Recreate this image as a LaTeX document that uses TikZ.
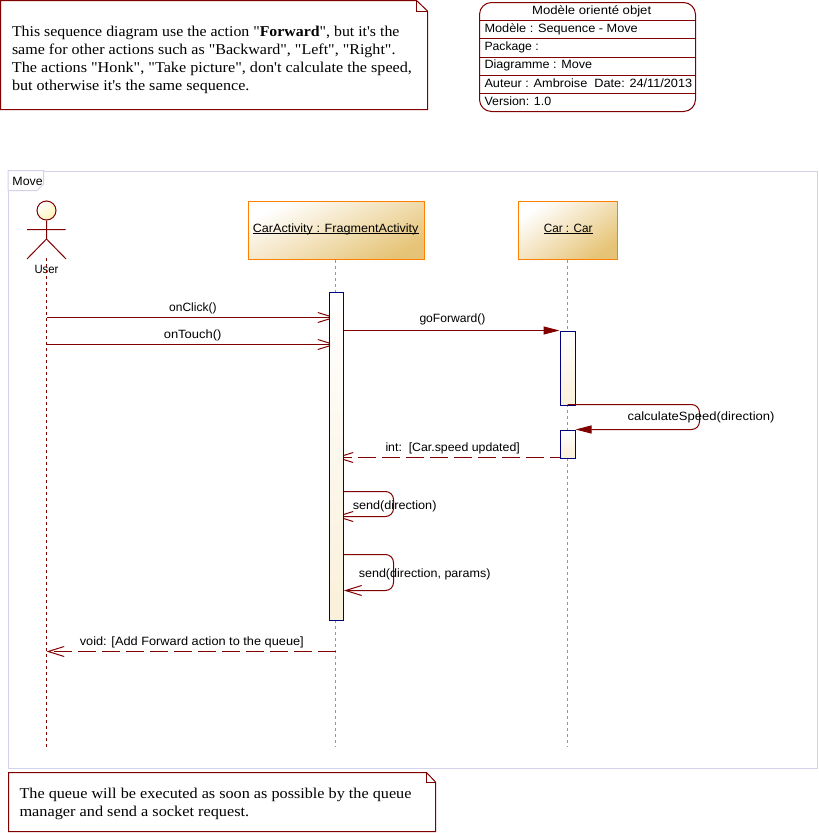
\documentclass[tikz,border=0pt]{standalone}
\usepackage{fontspec}
\usetikzlibrary{arrows.meta}
\newfontfamily\arialf{Liberation Sans}
\newfontfamily\timesf{Liberation Serif}
\definecolor{dred}{HTML}{800000}
\definecolor{navybox}{HTML}{000080}
\definecolor{orangeb}{HTML}{FF8000}
\definecolor{framec}{HTML}{D2D2EA}
\definecolor{goldf}{HTML}{E6C477}
\definecolor{actf}{HTML}{FAF0DA}
\definecolor{headf}{HTML}{FFF4B8}
\newcommand\fitw[2]{\resizebox{#1pt}{\height}{#2}}
\newsavebox\ulsavebox
\newcommand\flatul[1]{\sbox\ulsavebox{#1}\rlap{\rule[-1.8pt]{\wd\ulsavebox}{0.9pt}}\usebox\ulsavebox}
\tikzset{
  x=1pt,y=-1pt,
  every path/.style={line width=1pt},
  sanstxt/.style={anchor=base west,inner sep=0pt,font=\arialf\fontsize{12}{14}\selectfont},
  seriftxt/.style={anchor=base west,inner sep=0pt,font=\timesf\fontsize{15}{17}\selectfont},
  notebox/.style={draw=dred,fill=white},
  objbox/.style={draw=orangeb,line width=1.4pt,top color=white,bottom color=goldf,minimum height=58pt,inner sep=0pt},
  actbox/.style={draw=navybox,top color=white,bottom color=actf,minimum width=14pt,inner sep=0pt},
  msg/.style={draw=dred},
  opena/.style={-{Straight Barb[length=16pt,width=10pt]}},
  fulla/.style={-{Triangle[length=16pt,width=8pt]}},
  ret/.style={dash pattern=on 18pt off 6pt},
  lifeu/.style={draw=dred,dash pattern=on 3pt off 3pt},
  lifeo/.style={draw=orangeb,line width=1.2pt,dash pattern=on 3pt off 3pt},
}
\begin{document}
\begin{tikzpicture}
\useasboundingbox (0,0) rectangle (819,833);
% frame
\draw[framec] (8.5,171.5) rectangle (817.5,768.5);
\draw[framec,fill=white] (8,170.5) -- (43.5,170.5) -- (43.5,184) -- (37,190.5) -- (8,190.5) -- cycle;
\node[sanstxt] (movelbl) at (12,185) {\fitw{30.3}{Move}};
% top note
\draw[notebox] (0.5,0.5) -- (416.5,0.5) -- (427.5,11) -- (427.5,109.5) -- (0.5,109.5) -- cycle;
\draw[dred] (416.5,0.5) -- (416.5,11) -- (427.5,11);
\node[seriftxt] (n1a) at (11.5,36.7) {\fitw{387.5}{This sequence diagram use the action "\textbf{Forward}", but it's the}};
\node[seriftxt] (n1b) at (11.5,54.7) {\fitw{383.5}{same for other actions such as "Backward", "Left", "Right".}};
\node[seriftxt] (n1c) at (11.5,72.7) {\fitw{400}{The actions "Honk", "Take picture", don't calculate the speed,}};
\node[seriftxt] (n1d) at (11.5,90.7) {\fitw{237.5}{but otherwise it's the same sequence.}};
% title block
\draw[dred,fill=white,rounded corners=12pt] (479.5,2.5) rectangle (695.5,111.5);
\draw[dred] (479.5,20.5) -- (695.5,20.5) (479.5,38.5) -- (695.5,38.5) (479.5,57.5) -- (695.5,57.5) (479.5,75.5) -- (695.5,75.5) (479.5,93.5) -- (695.5,93.5);
\node[sanstxt] (t1) at (531.7,14) {\fitw{119}{Modèle orienté objet}};
\node[sanstxt] (t2) at (484,32) {\fitw{153.3}{Modèle : Sequence - Move}};
\node[sanstxt] (t3) at (484,50.5) {\fitw{54.3}{Package :}};
\node[sanstxt] (t4) at (484,68.5) {\fitw{107.7}{Diagramme : Move}};
\node[sanstxt] (t5) at (484,87) {\fitw{207.7}{Auteur : Ambroise\ \ Date: 24/11/2013}};
\node[sanstxt] (t6) at (484,105) {\fitw{66.7}{Version: 1.0}};
% bottom note
\draw[notebox] (8.5,772.5) -- (426.5,772.5) -- (435.5,782) -- (435.5,831.5) -- (8.5,831.5) -- cycle;
\draw[dred] (426.5,772.5) -- (426.5,782) -- (435.5,782);
\node[seriftxt] (n2a) at (19,798) {\fitw{392}{The queue will be executed as soon as possible by the queue}};
\node[seriftxt] (n2b) at (19,816) {\fitw{229.7}{manager and send a socket request.}};
% objects
\node[objbox,minimum width=176pt,shading angle=26] (caract) at (336.5,230.25) {};
\node[objbox,minimum width=99pt,shading angle=35] (carobj) at (568,230.25) {};
\node[sanstxt] (caractl) at (252.3,232.5) {\fitw{165.7}{\flatul{CarActivity : FragmentActivity}}};
\node[sanstxt] (carobjl) at (543.3,232.5) {\fitw{48.7}{\flatul{Car : Car}}};
% actor
\node[circle,draw=dred,top color=white,bottom color=headf,shading angle=40,inner sep=0pt,minimum size=19pt] (userhead) at (46.5,210.5) {};
\coordinate (uhip) at (46.5,239);
\coordinate (uarmL) at (27,229.5);
\coordinate (uarmR) at (65.5,229.5);
\coordinate (ulegL) at (27,259);
\coordinate (ulegR) at (66,259);
\draw[dred] (userhead.south) -- (uhip) (uarmL) -- (uarmR) (ulegL) -- (uhip) -- (ulegR);
\node[sanstxt] (userl) at (34,273) {\fitw{24}{User}};
% lifelines
\coordinate (uend) at (46.5,747);
\coordinate (caend) at (335.5,747);
\coordinate (coend) at (567.5,747);
\draw[lifeu] (46.5,258) -- (uend);
\draw[lifeo] (caract.south -| caend) -- (caend);
\draw[lifeo] (carobj.south -| coend) -- (coend);
% messages ending at the CarActivity lifeline, below its activation
\coordinate (uclick) at (46.5,317.5);
\coordinate (utouch) at (46.5,344.5);
\draw[msg,opena] (uclick) -- (uclick -| caend);
\draw[msg,opena] (utouch) -- (utouch -| caend);
\coordinate (intr) at (567.5,457.5);
\draw[msg,ret,opena] (intr) -- (intr -| caend);
\coordinate (s1a) at (343.5,491.5);
\coordinate (s1b) at (393.5,491.5);
\coordinate (s1c) at (393.5,516.5);
\draw[msg,opena,rounded corners=8pt] (s1a) -- (s1b) -- (s1c) -- (s1c -| caend);
% activations
\node[actbox,minimum height=328pt] (act1) at (336.5,456.5) {};
\node[actbox,minimum width=15pt,minimum height=74pt] (act2) at (567.5,368) {};
\node[actbox,minimum width=15pt,minimum height=28pt] (act3) at (567.5,444) {};
% remaining messages
\draw[msg,fulla] (act1.east |- act2.north) -- (act2.north west);
\coordinate (cs1) at (567.5,404.5);
\coordinate (cs2) at (699.5,404.5);
\coordinate (cs3) at (699.5,429.5);
\draw[msg,fulla,rounded corners=8pt] (cs1) -- (cs2) -- (cs3) -- (cs3 -| act3.east);
\coordinate (s2a) at (343.5,554.5);
\coordinate (s2b) at (393.5,554.5);
\coordinate (s2c) at (393.5,590.5);
\draw[msg,opena,rounded corners=8pt] (s2a) -- (s2b) -- (s2c) -- (s2c -| act1.east);
\coordinate (vstart) at (335.5,651.5);
\draw[msg,ret,opena] (vstart) -- (vstart -| uend);
% message labels
\node[sanstxt] (l1) at (168.7,311) {\fitw{47.3}{onClick()}};
\node[sanstxt] (l2) at (163.3,338) {\fitw{57.7}{onTouch()}};
\node[sanstxt] (l3) at (419,322) {\fitw{66}{goForward()}};
\node[sanstxt] (l4) at (627,420) {\fitw{147}{calculateSpeed(direction)}};
\node[sanstxt] (l5) at (385,451) {\fitw{134.3}{int:\ \ [Car.speed updated]}};
\node[sanstxt] (l6) at (352.3,509) {\fitw{83.7}{send(direction)}};
\node[sanstxt] (l7) at (358.3,577) {\fitw{131.7}{send(direction, params)}};
\node[sanstxt] (l8) at (79.3,645) {\fitw{224}{void: [Add Forward action to the queue]}};
\end{tikzpicture}
\end{document}
